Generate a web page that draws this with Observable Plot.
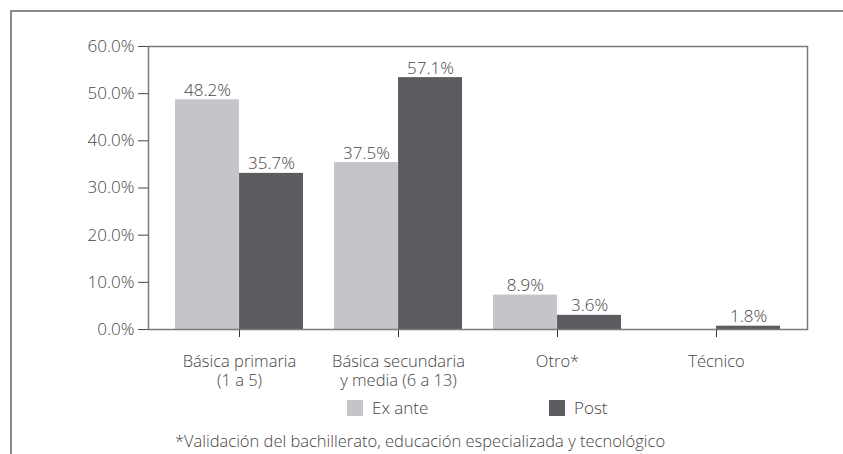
<!DOCTYPE html>
<html>
<head>
<meta charset="utf-8">
<script src="https://cdn.jsdelivr.net/npm/d3@7"></script>
<script src="https://cdn.jsdelivr.net/npm/@observablehq/plot@0.6"></script>
<style>
  html, body { margin: 0; padding: 0; background: #fff; }
  body { width: 843px; height: 454px; position: relative; overflow: hidden; font-family: "Open Sans", sans-serif; font-weight: 300; color: #454545; }
  #outer { position: absolute; left: 10px; top: 10px; width: 900px; height: 500px; border-top: 2px solid #8a8a8a; border-left: 2px solid #8a8a8a; box-sizing: border-box; }
  #chart { position: absolute; left: 0; top: 0; }
  .leg { position: absolute; top: 399px; font-size: 17px; line-height: 18px; display: flex; align-items: center; }
  .sw { width: 16px; height: 16px; margin-right: 9px; }
  #caption { position: absolute; top: 429px; left: 0; width: 840px; text-align: center; font-size: 16.5px; }
</style>
</head>
<body>
<div id="outer"></div>
<div id="chart"></div>
<div id="legend"></div>
<div id="caption"></div>
<script>
// ---- data ----
const categories = ["Básica primaria\n(1 a 5)", "Básica secundaria\ny media (6 a 13)", "Otro*", "Técnico"];
const series = ["Ex ante", "Post"];
// bar heights as drawn in the reference (percent)
const exAnteValues = [48.7, 35.4, 7.3, null];
const postValues = [33.1, 53.4, 3.0, 0.7];
// printed value labels
const exAnteLabels = ["48.2%", "37.5%", "8.9%", ""];
const postLabels = ["35.7%", "57.1%", "3.6%", "1.8%"];
const yTicks = [0, 10, 20, 30, 40, 50, 60];
const colors = ["#c4c5c9", "#5c5b60"];
const captionText = "*Validación del bachillerato, educación especializada y tecnológico";

// ---- layout ----
const W = 843, H = 392, mL = 148, mR = 36, mT = 46, mB = H - 329;
const pInner = 0.196, pOuter = 0.165;
const step = (W - mL - mR) / (categories.length - pInner + 2 * pOuter);
const half = step * (1 - pInner) / 2;

const rows = [];
categories.forEach((c, i) => {
  if (exAnteValues[i] != null) rows.push({cat: c, series: series[0], value: exAnteValues[i], label: exAnteLabels[i]});
  if (postValues[i] != null) rows.push({cat: c, series: series[1], value: postValues[i], label: postLabels[i]});
});
const exRows = rows.filter(d => d.series === series[0]);
const poRows = rows.filter(d => d.series === series[1]);

const font = "'Open Sans', sans-serif";
const txt = "#454545";
const plot = Plot.plot({
  width: W, height: H,
  marginLeft: mL, marginRight: mR, marginTop: mT, marginBottom: mB,
  style: {fontFamily: font, fontSize: "17px", fontWeight: 300, color: txt, background: "transparent"},
  x: {domain: categories, paddingInner: pInner, paddingOuter: pOuter, label: null, axis: null},
  y: {domain: [0, 60], label: null, axis: null},
  color: {domain: series, range: colors},
  marks: [
    Plot.barY(exRows, {x: "cat", y: "value", fill: "series", insetRight: half}),
    Plot.barY(poRows, {x: "cat", y: "value", fill: "series", insetLeft: half}),
    Plot.text(exRows, {x: "cat", y: "value", text: "label", dx: -half / 2, dy: -4, lineAnchor: "bottom", fill: txt, fontSize: 17, letterSpacing: "1.4px"}),
    Plot.text(poRows, {x: "cat", y: "value", text: "label", dx: half / 2, dy: -4, lineAnchor: "bottom", fill: txt, fontSize: 17, letterSpacing: "1.4px"}),
    Plot.axisY({ticks: yTicks, tickSize: 10, tickPadding: 4, tickFormat: d => d.toFixed(1) + "%", stroke: "#444", fill: txt, fontSize: 17, letterSpacing: "1.4px", label: null}),
    Plot.axisX({tickSize: 8, tickPadding: 15, stroke: "#333", fill: txt, fontSize: 16.5, lineHeight: 1.2, label: null}),
    Plot.frame({stroke: "#7a7a7a", strokeWidth: 1.5})
  ]
});
document.getElementById("chart").appendChild(plot);

// ---- legend ----
const legend = document.getElementById("legend");
const legX = [347, 549];
series.forEach((s, i) => {
  const item = document.createElement("div");
  item.className = "leg";
  item.style.left = legX[i] + "px";
  item.innerHTML = `<div class="sw" style="background:${colors[i]}"></div><span>${s}</span>`;
  legend.appendChild(item);
});
document.getElementById("caption").textContent = captionText;
</script>
</body>
</html>
